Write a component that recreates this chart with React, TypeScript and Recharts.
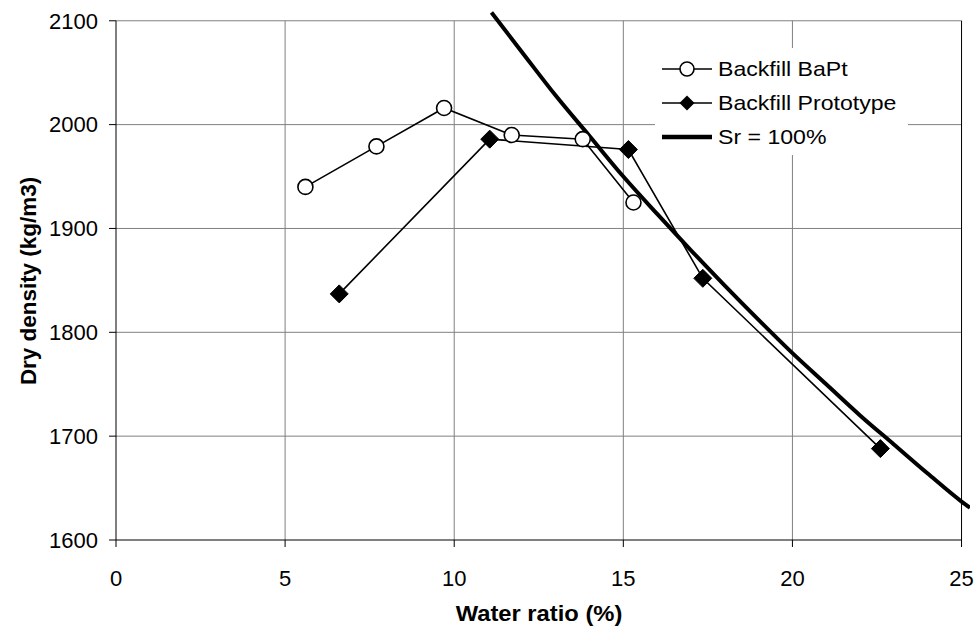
import React from 'react';
import { LineChart, Line, XAxis, YAxis, ReferenceLine } from 'recharts';

// Backfill BaPt
const BAPT_W = [5.6, 7.7, 9.7, 11.7, 13.8, 15.3];
const BAPT_RHO = [1940, 1979, 2016, 1990, 1986, 1925];
// Backfill Prototype
const PROTO_W = [6.6, 11.05, 15.15, 17.35, 22.6];
const PROTO_RHO = [1837, 1986, 1976, 1852, 1688];
// Sr = 100% (saturation line)
const SR_W = [11.1, 12, 13, 14, 15, 16, 17, 18, 19, 20, 21, 22, 23, 24, 25, 25.25];
const SR_RHO = [2108, 2070, 2028, 1989, 1950, 1914, 1879, 1845, 1812, 1780, 1750, 1720, 1692, 1664, 1637, 1631];

const X_TICKS = [0, 5, 10, 15, 20, 25];
const Y_TICKS = [1600, 1700, 1800, 1900, 2000, 2100];
const SERIES_NAMES = ['Backfill BaPt', 'Backfill Prototype', 'Sr = 100%'];
const X_TITLE = 'Water ratio (%)';
const Y_TITLE = 'Dry density (kg/m3)';

const toRows = (xs: number[], ys: number[]) => xs.map((x, i) => ({ x, y: ys[i] }));
const baptData = toRows(BAPT_W, BAPT_RHO);
const protoData = toRows(PROTO_W, PROTO_RHO);
const srData = toRows(SR_W, SR_RHO);

const FONT = '"Liberation Sans", Arial, sans-serif';
const GRID = '#808080';

const CircleDot = (props: any) => {
  const { cx, cy } = props;
  if (cx == null || cy == null) return null;
  return <circle cx={cx} cy={cy} r={7.5} fill="#fff" stroke="#000" strokeWidth={1.6} />;
};

const DiamondDot = (props: any) => {
  const { cx, cy } = props;
  if (cx == null || cy == null) return null;
  const h = 9;
  return (
    <polygon
      points={`${cx},${cy - h} ${cx + h},${cy} ${cx},${cy + h} ${cx - h},${cy}`}
      fill="#000"
      stroke="#000"
      strokeWidth={1}
    />
  );
};

const X_MAX = X_TICKS[X_TICKS.length - 1];
const Y_MIN = Y_TICKS[0];
const Y_MAX = Y_TICKS[Y_TICKS.length - 1];

export default function App() {
  return (
    <div style={{ position: 'absolute', left: 0, top: 0, width: 977, height: 627, background: '#fff' }}>
      <LineChart
        width={977}
        height={627}
        margin={{ top: 0, right: 7, bottom: 0, left: 0 }}
      >
        <XAxis
          type="number"
          dataKey="x"
          domain={[0, 25.25]}
          allowDataOverflow
          ticks={X_TICKS}
          height={87}
          axisLine={false}
          tickLine={{ stroke: '#000' }}
          tickSize={7}
          tickMargin={23}
          tick={{ fontSize: 22, fill: '#000', fontFamily: FONT }}
          label={{
            content: () => (
              <text
                x={0}
                y={0}
                transform="translate(539,621) scale(1.08,1)"
                textAnchor="middle"
                fontSize={22}
                fontWeight="bold"
                fontFamily={FONT}
                fill="#000"
              >
                {X_TITLE}
              </text>
            ),
          }}
        />
        <YAxis
          type="number"
          dataKey="y"
          domain={[1600, 2120]}
          allowDataOverflow
          ticks={Y_TICKS}
          width={116}
          axisLine={false}
          tickLine={{ stroke: '#000' }}
          tickSize={7}
          tickMargin={11}
          tick={{ fontSize: 22, fill: '#000', fontFamily: FONT }}
          label={{
            content: () => (
              <text
                x={0}
                y={0}
                transform="translate(36,281) rotate(-90) scale(1.02,1)"
                textAnchor="middle"
                fontSize={22}
                fontWeight="bold"
                fontFamily={FONT}
                fill="#000"
              >
                {Y_TITLE}
              </text>
            ),
          }}
        />
        {Y_TICKS.slice(1).map((v) => (
          <ReferenceLine
            key={'h' + v}
            segment={[{ x: 0, y: v }, { x: X_MAX, y: v }]}
            stroke={GRID}
            strokeWidth={1}
          />
        ))}
        {X_TICKS.slice(1, -1).map((v) => (
          <ReferenceLine
            key={'v' + v}
            segment={[{ x: v, y: Y_MIN }, { x: v, y: Y_MAX }]}
            stroke={GRID}
            strokeWidth={1}
          />
        ))}
        <ReferenceLine segment={[{ x: X_MAX, y: Y_MIN }, { x: X_MAX, y: Y_MAX }]} stroke="#000" strokeWidth={1} />
        <ReferenceLine segment={[{ x: 0, y: Y_MIN }, { x: 0, y: Y_MAX }]} stroke="#000" strokeWidth={1} />
        <ReferenceLine segment={[{ x: 0, y: Y_MIN }, { x: X_MAX, y: Y_MIN }]} stroke="#000" strokeWidth={1} />
        <Line
          data={srData}
          dataKey="y"
          name={SERIES_NAMES[2]}
          type="monotone"
          stroke="#000"
          strokeWidth={4}
          dot={false}
          activeDot={false}
          isAnimationActive={false}
        />
        <Line
          data={protoData}
          dataKey="y"
          name={SERIES_NAMES[1]}
          type="linear"
          stroke="#000"
          strokeWidth={1.6}
          dot={<DiamondDot />}
          activeDot={false}
          isAnimationActive={false}
        />
        <Line
          data={baptData}
          dataKey="y"
          name={SERIES_NAMES[0]}
          type="linear"
          stroke="#000"
          strokeWidth={1.6}
          dot={<CircleDot />}
          activeDot={false}
          isAnimationActive={false}
        />
      </LineChart>
      <div
        style={{
          position: 'absolute',
          left: 655,
          top: 48,
          width: 253,
          height: 107,
          background: '#fff',
          paddingTop: 4,
          boxSizing: 'border-box',
          fontFamily: FONT,
          fontSize: 21,
          color: '#000',
        }}
      >
        {SERIES_NAMES.map((name, i) => (
          <div key={name} style={{ display: 'flex', alignItems: 'center', height: 34, paddingLeft: 7 }}>
            <svg width={50} height={34} style={{ display: 'block', flex: 'none' }}>
              <line x1={0} y1={17} x2={50} y2={17} stroke="#000" strokeWidth={i === 2 ? 4.5 : 1.6} />
              {i === 0 && <circle cx={25} cy={17} r={7} fill="#fff" stroke="#000" strokeWidth={1.6} />}
              {i === 1 && <polygon points="25,9.5 32.5,17 25,24.5 17.5,17" fill="#000" />}
            </svg>
            <span
              style={{
                marginLeft: 6,
                lineHeight: '34px',
                whiteSpace: 'nowrap',
                display: 'inline-block',
                transform: 'scaleX(1.1)',
                transformOrigin: 'left center',
              }}
            >
              {name}
            </span>
          </div>
        ))}
      </div>
    </div>
  );
}
